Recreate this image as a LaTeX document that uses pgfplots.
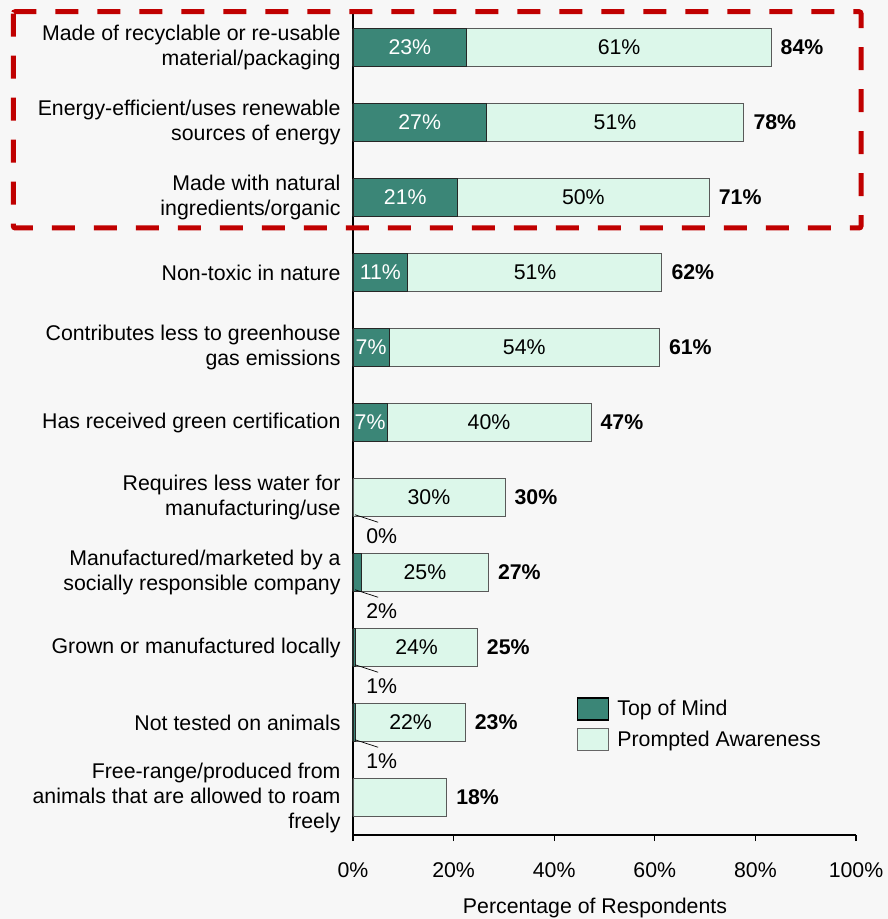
\documentclass[border=0pt]{standalone}
\usepackage{pgfplots}
\pgfplotsset{compat=1.18}
\usepackage{fontspec}
\setmainfont{Liberation Sans}
\definecolor{darkc}{HTML}{3B8677}
\definecolor{lightc}{HTML}{DCF7EA}
\definecolor{bgc}{HTML}{F7F7F7}
\definecolor{redc}{HTML}{C00000}
\newcommand\fs{\fontsize{21.3bp}{25bp}\selectfont}
\begin{document}
\begin{tikzpicture}
\fill[bgc] (-353bp,-84bp) rectangle (535bp,835bp);
\begin{axis}[
  scale only axis, width=503bp, height=825bp,
  at={(0,0)}, anchor=south west,
  xmin=0, xmax=100, ymin=-0.5, ymax=10.5, y dir=reverse,
  enlargelimits=false, clip=false,
  axis x line*=bottom, axis y line*=left,
  axis line style={black, line width=1.4bp},
  xtick={0,20,...,100},
  xticklabel={\pgfmathprintnumber{\tick}\%},
  /pgf/number format/assume math mode=true,
  tick align=outside, major tick length=6bp,
  x tick style={black, line width=1.2bp},
  y tick style={draw=none},
  ytick={0,...,10},
  yticklabels={
    {Made of recyclable or re-usable\\material/packaging},
    {Energy-efficient/uses renewable\\sources of energy},
    {Made with natural\\ingredients/organic},
    {Non-toxic in nature},
    {Contributes less to greenhouse\\gas emissions},
    {Has received green certification},
    {Requires less water for\\manufacturing/use},
    {Manufactured/marketed by a\\socially responsible company},
    {Grown or manufactured locally},
    {Not tested on animals},
    {Free-range/produced from\\animals that are allowed to roam\\freely}},
  yticklabel style={align=right, font=\fs, xshift=-3bp},
  xticklabel style={font=\fs, yshift=-18bp},
  legend style={at={(axis cs:44.5,8.66)}, anchor=north west, draw=none, fill=none,
    font=\fs, inner sep=0pt, row sep=7bp, column sep=5bp, nodes={inner sep=3bp}, cells={anchor=west}},
]
\addlegendimage{legend image code/.code={\draw[fill=darkc, draw=black, line width=1.4bp] (0bp,-11bp) rectangle (31bp,11bp);}}
\addlegendentry{Top of Mind}
\addlegendimage{legend image code/.code={\draw[fill=lightc, draw=black!60, line width=0.8bp] (0bp,-11bp) rectangle (31bp,11bp);}}
\addlegendentry{Prompted Awareness}

% total (Top of Mind + Prompted Awareness)
\addplot[xbar, bar width=0.5, fill=lightc, draw=black!65, line width=0.8bp, forget plot,
  nodes near coords, point meta=explicit symbolic,
  nodes near coords style={font=\fs\bfseries, anchor=west, xshift=6bp}]
  coordinates {(83.1,0)[84\%] (77.7,1)[78\%] (70.8,2)[71\%] (61.4,3)[62\%] (60.9,4)[61\%]
    (47.3,5)[47\%] (30.2,6)[30\%] (26.9,7)[27\%] (24.7,8)[25\%] (22.3,9)[23\%] (18.6,10)[18\%]};
% Top of Mind
\addplot[xbar, bar width=0.5, fill=darkc, draw=black!85, line width=0.8bp, forget plot]
  coordinates {(22.6,0) (26.5,1) (20.8,2) (10.9,3) (7.2,4) (6.8,5) (1.7,7) (0.4,8) (0.4,9)};
% Top of Mind labels (white, inside)
\addplot[draw=none, forget plot, nodes near coords, point meta=explicit symbolic,
  nodes near coords style={anchor=center, font=\fs, text=white}]
  coordinates {(11.3,0)[23\%] (13.25,1)[27\%] (10.4,2)[21\%] (5.45,3)[11\%] (3.6,4)[7\%] (3.4,5)[7\%]};
% Prompted Awareness labels
\addplot[draw=none, forget plot, nodes near coords, point meta=explicit symbolic,
  nodes near coords style={anchor=center, font=\fs, text=black}]
  coordinates {(52.9,0)[61\%] (52.1,1)[51\%] (45.8,2)[50\%] (36.2,3)[51\%] (34.05,4)[54\%]
    (27.05,5)[40\%] (15.1,6)[30\%] (14.3,7)[25\%] (12.65,8)[24\%] (11.45,9)[22\%]};
% small Top of Mind labels below the bars
\addplot[draw=none, forget plot, nodes near coords, point meta=explicit symbolic,
  nodes near coords style={anchor=west, font=\fs, text=black, inner sep=0pt}]
  coordinates {(2.6,6.52)[0\%] (2.6,7.52)[2\%] (2.6,8.52)[1\%] (2.6,9.52)[1\%]};
\foreach \r in {6,7,8,9}{
  \edef\tmp{\noexpand\draw[black, line width=0.7bp] (axis cs:0.4,\r.23) -- (axis cs:5,\r.33);}
  \tmp
}
\end{axis}
\node[font=\fs] at (242bp,-73bp) {Percentage of Respondents};
\draw[redc, line width=5bp, dash pattern=on 23bp off 19bp, rounded corners=2bp]
  (-339.7bp,823.3bp) rectangle (508bp,607bp);
\pgfresetboundingbox
\path (-353bp,-84bp) rectangle (535bp,835bp);
\end{tikzpicture}
\end{document}
